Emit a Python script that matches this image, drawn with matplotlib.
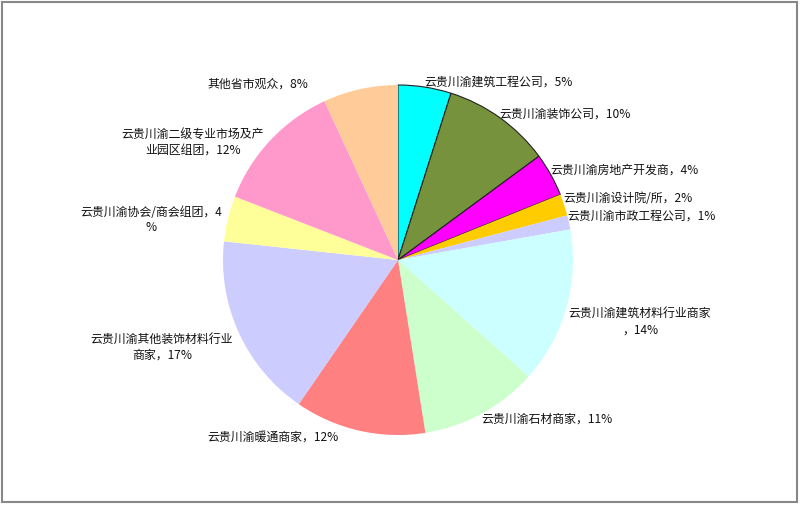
import matplotlib
matplotlib.use("Agg")
import matplotlib.pyplot as plt
from matplotlib.patches import Rectangle

plt.rcParams['font.family'] = ['Noto Sans CJK SC', 'DejaVu Sans']

# shares as drawn (slice angles)
shares = [4.9, 10.0, 4.0, 2.0, 1.3, 14.4, 10.9, 12.1, 17.1, 4.2, 12.2, 6.9]
labels = [
    "云贵川渝建筑工程公司，5%",
    "云贵川渝装饰公司，10%",
    "云贵川渝房地产开发商，4%",
    "云贵川渝设计院/所，2%",
    "云贵川渝市政工程公司，1%",
    "云贵川渝建筑材料行业商家\n，14%",
    "云贵川渝石材商家，11%",
    "云贵川渝暖通商家，12%",
    "云贵川渝其他装饰材料行业\n商家，17%",
    "云贵川渝协会/商会组团，4\n%",
    "云贵川渝二级专业市场及产\n业园区组团，12%",
    "其他省市观众，8%",
]
colors = ['#00FFFF', '#76923C', '#FF00FF', '#FFCC00', '#CCCCFF', '#CCFFFF',
          '#CCFFCC', '#FF8080', '#CCCCFF', '#FFFF99', '#FF99CC', '#FFCC99']
outlined = [0, 1, 2]

# label centres in pixels of the 800x506 image
label_px = [(499, 82), (565, 114), (624, 170), (628, 199), (642, 216),
            (640, 322), (547, 419), (273, 437), (162, 347), (151, 220),
            (193, 142), (258, 84)]

W, H = 800, 506
cx, cy, r = 398, 261, 175

fig = plt.figure(figsize=(W / 100, H / 100), dpi=100)
ax = fig.add_axes([(cx - r) / W, (H - cy - r) / H, 2 * r / W, 2 * r / H])

wedges, _ = ax.pie(shares, colors=colors, startangle=90, counterclock=False,
                   radius=1, wedgeprops=dict(linewidth=0))
for i in outlined:
    wedges[i].set_edgecolor('#222222')
    wedges[i].set_linewidth(0.8)

ax.set_xlim(-1, 1)
ax.set_ylim(-1, 1)
ax.set_aspect('auto')
ax.axis('off')

for text, (px, py) in zip(labels, label_px):
    fig.text(px / W, 1 - py / H, text, ha='center', va='center',
             fontsize=8.6, color='#111111', linespacing=1.25)

fig.patches.append(Rectangle((2 / W, 3 / H), 795 / W, 500 / H,
                             transform=fig.transFigure, fill=False,
                             edgecolor='#888888', linewidth=1.5))

fig.savefig('out.png', dpi=100, facecolor='white')
